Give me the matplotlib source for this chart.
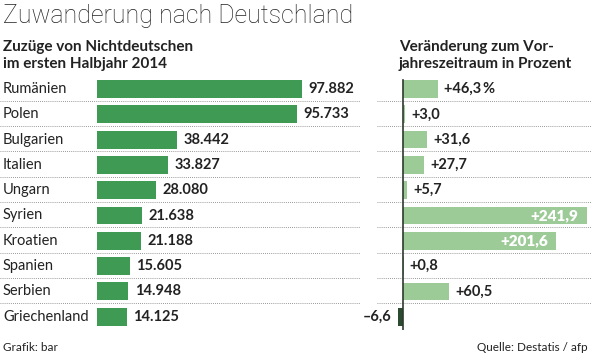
import matplotlib.pyplot as plt
import numpy as np

countries = ["Rumänien", "Polen", "Bulgarien", "Italien", "Ungarn",
             "Syrien", "Kroatien", "Spanien", "Serbien", "Griechenland"]
zuzuege = [97882, 95733, 38442, 33827, 28080, 21638, 21188, 15605, 14948, 14125]
veraenderung = [46.3, 3.0, 31.6, 27.7, 5.7, 241.9, 201.6, 0.8, 60.5, -6.6]
change_labels = ["+46,3\u2009%", "+3,0", "+31,6", "+27,7", "+5,7",
                 "+241,9", "+201,6", "+0,8", "+60,5", "\u20136,6"]

GREEN = "#3f9b53"
LIGHT = "#9dcb98"
DARK = "#2c4a2f"
TXT = "#222222"
FONT = ["Lato", "DejaVu Sans"]

plt.rcParams["font.family"] = FONT

W, H = 591, 356
fig = plt.figure(figsize=(W / 100, H / 100), dpi=100)

y = np.arange(len(countries))
top_px, bot_px = 76, 330
row0, pitch = 89, 25.3
ylim = ((bot_px - row0) / pitch, (top_px - row0) / pitch)
ax_pos_y = (H - bot_px) / H
ax_h = (bot_px - top_px) / H

# left panel: absolute numbers (x in thousands)
ax1 = fig.add_axes([0, ax_pos_y, 360 / W, ax_h])
px_per_k = 2.094
ax1.set_xlim(-97 / px_per_k, (360 - 97) / px_per_k)
ax1.set_ylim(*ylim)
vals_k = np.array(zuzuege) / 1000
ax1.barh(y, vals_k, height=0.71, color=GREEN)
for i, v in enumerate(vals_k):
    ax1.annotate(f"{zuzuege[i]:,}".replace(",", "."), (v, i), xytext=(4.5, 0),
                 textcoords="offset points", va="center", ha="left",
                 fontsize=10.5, fontweight="bold", color=TXT)
    ax1.text(3 / 360, i, countries[i], transform=ax1.get_yaxis_transform(),
             va="center", ha="left", fontsize=10.5, color=TXT)
for i in range(len(countries) - 1):
    ax1.axhline(i + 0.47, color="#777777", linestyle=(0, (1, 1.5)), linewidth=0.6)
ax1.axis("off")

# right panel: change in percent
ax2 = fig.add_axes([377 / W, ax_pos_y, (W - 377) / W, ax_h])
px_per_pct = 0.76
ax2.set_xlim(-(403 - 377) / px_per_pct, (W - 403) / px_per_pct)
ax2.set_ylim(*ylim)
colors = [LIGHT if v >= 0 else DARK for v in veraenderung]
ax2.barh(y, veraenderung, height=0.7, color=colors)
ax2.axvline(0, ymin=0, ymax=(bot_px - 80) / (bot_px - top_px), color="#2d3a2d", linewidth=1.2)
for i, v in enumerate(veraenderung):
    if v > 150:
        ax2.annotate(change_labels[i], (v, i), xytext=(-6, 0), textcoords="offset points",
                     va="center", ha="right", fontsize=11, fontweight="heavy", color="white")
    elif v < 0:
        ax2.annotate(change_labels[i], (v, i), xytext=(-5, 0), textcoords="offset points",
                     va="center", ha="right", fontsize=10.5, fontweight="bold", color=TXT)
    else:
        ax2.annotate(change_labels[i], (v, i), xytext=(4.5, 0), textcoords="offset points",
                     va="center", ha="left", fontsize=10.5, fontweight="bold", color=TXT)
for i in range(len(countries) - 1):
    ax2.axhline(i + 0.47, color="#777777", linestyle=(0, (1, 1.5)), linewidth=0.6, zorder=0)
ax2.axis("off")

# titles
fig.text(3 / W, 1 - 23 / H, "Zuwanderung nach Deutschland", fontsize=18,
         family=["Roboto", "DejaVu Sans"], fontweight="light", color=TXT,
         va="baseline", ha="left")
for x0, lines in [(3, ["Zuzüge von Nichtdeutschen", "im ersten Halbjahr 2014"]),
                  (399, ["Veränderung zum Vor-", "jahreszeitraum in Prozent"])]:
    for k, line in enumerate(lines):
        fig.text(x0 / W, 1 - (51 + 17 * k) / H, line, fontsize=11,
                 fontweight="bold", color=TXT, va="baseline", ha="left")
fig.text(3 / W, 1 - 351 / H, "Grafik: bar", fontsize=8.5, color=TXT,
         va="baseline", ha="left")
fig.text(588 / W, 1 - 351 / H, "Quelle: Destatis / afp", fontsize=8.5, color=TXT,
         va="baseline", ha="right")

fig.savefig("out.png", dpi=100)
